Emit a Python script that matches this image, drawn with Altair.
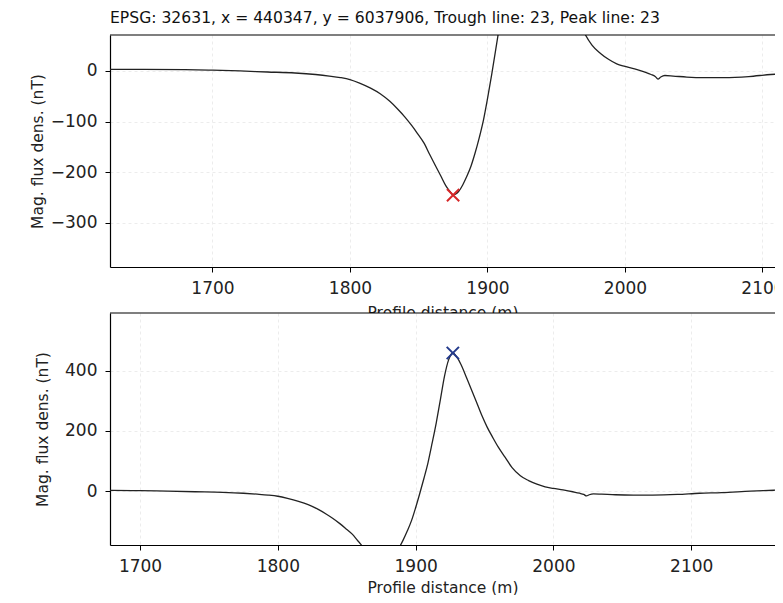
import altair as alt
import pandas as pd

# Profile data (same profile shown in both panels)
distance = [1620, 1650, 1680, 1700, 1720, 1740, 1760, 1775, 1785, 1793,
            1800, 1807, 1815, 1822, 1829, 1835, 1840, 1845, 1849, 1854,
            1858, 1862, 1866, 1870, 1873, 1875, 1877, 1879, 1882, 1885,
            1888, 1891, 1894, 1897, 1900, 1903, 1906, 1909, 1912, 1915,
            1918, 1921, 1924, 1927, 1930, 1933, 1936, 1940, 1944, 1948,
            1952, 1956, 1960, 1965, 1970, 1976, 1982, 1988, 1994, 2000,
            2007, 2014, 2019, 2022, 2024, 2026, 2029, 2035, 2045, 2058,
            2072, 2090, 2106, 2122, 2143, 2160, 2175]
field = [3, 3, 2.5, 1.5, 0, -2, -4, -7, -10, -13,
         -17, -24, -34, -45, -60, -76, -91, -108, -123, -143,
         -165, -186, -207, -228, -239, -245, -243, -238, -225, -208,
         -188, -162, -132, -98, -55, -8, 42, 95, 160, 228,
         305, 383, 437, 459, 445, 420, 388, 343, 298, 252,
         212, 178, 146, 112, 78, 51, 35, 23, 14, 9,
         4, -2, -7, -11, -16, -12, -9, -10, -12, -13,
         -13, -11, -7, -5, 0, 3, 6]

trough_dist = [1875]
trough_field = [-245]
peak_dist = [1927]
peak_field = [459]

x_ticks = [1700, 1800, 1900, 2000, 2100]
top_y_ticks = [0, -100, -200, -300]
bottom_y_ticks = [0, 200, 400]
top_x_domain = [1625.5, 2109.1]
top_y_domain = [-387, 71]
bottom_x_domain = [1678.2, 2160.8]
bottom_y_domain = [-179, 592]

title_text = "EPSG: 32631, x = 440347, y = 6037906, Trough line: 23, Peak line: 23"
x_title = "Profile distance (m)"
y_title = "Mag. flux dens. (nT)"

profile = pd.DataFrame({"distance": distance, "field": field})
W, H = 665, 232
XPATH = "M-1,-1L1,1M-1,1L1,-1"


def panel(xdom, ydom, yticks, mdist, mfield, mcolor, ytitle_pad, xtitle_pad):
    xs = alt.Scale(domain=xdom, nice=False, zero=False)
    ys = alt.Scale(domain=ydom, nice=False, zero=False)
    xa = alt.Axis(values=x_ticks, title=x_title, format="d", labelFlush=False,
                  titlePadding=xtitle_pad)
    ya = alt.Axis(values=yticks, title=y_title, format="d", titlePadding=ytitle_pad)
    line = alt.Chart(profile).mark_line(
        color="#222222", strokeWidth=1.3, clip=True, interpolate="monotone"
    ).encode(
        x=alt.X("distance:Q", scale=xs, axis=xa),
        y=alt.Y("field:Q", scale=ys, axis=ya),
    )
    marks = alt.Chart(pd.DataFrame({"distance": mdist, "field": mfield})).mark_point(
        shape=XPATH, size=150, strokeWidth=2, color=mcolor, filled=False,
        opacity=1, clip=True
    ).encode(x="distance:Q", y="field:Q")
    border = alt.Chart(pd.DataFrame({"k": [0]})).mark_rule(
        color="black", strokeWidth=1.2
    ).encode(x=alt.value(0), x2=alt.value(W), y=alt.value(0))
    return alt.layer(line, marks, border).properties(width=W, height=H)


top = panel(top_x_domain, top_y_domain, top_y_ticks, trough_dist, trough_field,
            "#d62728", 5, 9).properties(
    title=alt.TitleParams(title_text, anchor="start", frame="group", fontSize=15.6,
                          fontWeight="normal", font="DejaVu Sans", color="#111111",
                          offset=8)
)
bottom = panel(bottom_x_domain, bottom_y_domain, bottom_y_ticks, peak_dist, peak_field,
               "#233a8c", 14, 6)

chart = alt.vconcat(top, bottom, spacing=46, bounds="flush").properties(
    autosize=alt.AutoSizeParams(type="none"),
    padding={"left": 102, "top": 27, "right": 0, "bottom": 560}
).configure_view(
    stroke=None, fill="white"
).configure_axis(
    domainColor="black", domainWidth=1.2, tickColor="black", tickSize=5, tickWidth=1,
    labelFont="DejaVu Sans", labelFontSize=17, labelColor="#222222", labelPadding=8,
    titleFont="DejaVu Sans", titleFontSize=15.5, titleFontWeight="normal",
    titleColor="#222222", gridColor="#ececec", gridDash=[3, 3], gridWidth=1
)

chart.save("out.html", embed_options={"renderer": "svg", "actions": False})
